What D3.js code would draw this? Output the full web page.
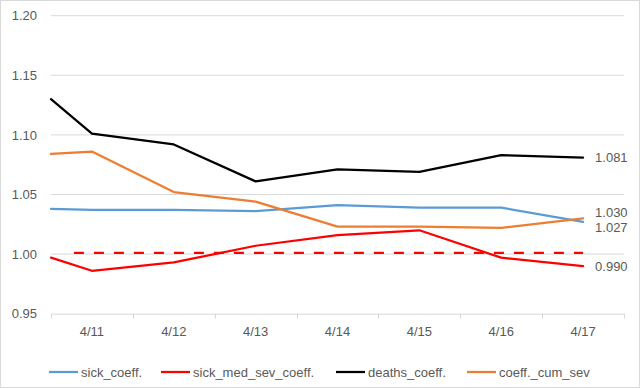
<!DOCTYPE html>
<html><head><meta charset="utf-8">
<script src="https://cdn.jsdelivr.net/npm/d3@7"></script>
<style>
html,body{margin:0;padding:0;background:#fff;}
svg{display:block;}
text{font-family:"Liberation Sans",Arial,sans-serif;fill:#595959;}
</style></head>
<body>
<svg id="chart" width="640" height="388"></svg>
<script>
// ---- data ----
const categories = ["4/11","4/12","4/13","4/14","4/15","4/16","4/17"];
const seriesNames = ["sick_coeff.","sick_med_sev_coeff.","deaths_coeff.","coeff._cum_sev"];
const seriesColors = ["#5B9BD5","#FF0000","#000000","#ED7D31"];
// value where each line enters at the left edge of the plot
const edgeValues = [1.038, 0.997, 1.130, 1.084];
const sickCoeff     = [1.037, 1.037, 1.036, 1.041, 1.039, 1.039, 1.027];
const sickMedSev    = [0.986, 0.993, 1.007, 1.016, 1.020, 0.997, 0.990];
const deathsCoeff   = [1.101, 1.092, 1.061, 1.071, 1.069, 1.083, 1.081];
const cumSevCoeff   = [1.086, 1.052, 1.044, 1.023, 1.023, 1.022, 1.030];
const seriesValues = [sickCoeff, sickMedSev, deathsCoeff, cumSevCoeff];
const refValue = 1.001;           // dashed reference level
const refFrom = -0.22, refTo = 6; // category index span of the dashed line
const yTicks = [0.95, 1.00, 1.05, 1.10, 1.15, 1.20];
const yDomain = [0.95, 1.20];

// ---- layout ----
const svg = d3.select("#chart");
const plot = {left: 51, right: 624, top: 15.7, bottom: 313.7};

svg.append("rect").attr("x",0.5).attr("y",0.5).attr("width",639).attr("height",387)
  .attr("fill","#fff").attr("stroke","#d9d9d9");

const x = d3.scaleBand().domain(categories).range([plot.left, plot.right]);
const xi = d3.scaleLinear().domain([-0.5, categories.length - 0.5]).range([plot.left, plot.right]);
const y = d3.scaleLinear().domain(yDomain).range([plot.bottom, plot.top]);

// gridlines
svg.append("g").selectAll("line").data(yTicks.slice(1)).join("line")
  .attr("x1", plot.left).attr("x2", plot.right)
  .attr("y1", d => y(d)).attr("y2", d => y(d))
  .attr("stroke", "#d9d9d9").attr("stroke-width", 1);

// y axis labels
const yAxis = d3.axisLeft(y).tickValues(yTicks).tickFormat(d3.format(".2f")).tickSize(0).tickPadding(14);
const gy = svg.append("g").attr("transform", `translate(${plot.left},0)`).call(yAxis);
gy.select(".domain").remove();
gy.selectAll("text").attr("font-size", 13).attr("fill", "#595959")
  .attr("font-family", "Liberation Sans, Arial, sans-serif");

// x axis
const xAxis = d3.axisBottom(x).tickSizeOuter(0).tickSize(0).tickPadding(13);
const gx = svg.append("g").attr("transform", `translate(0,${plot.bottom})`).call(xAxis);
gx.select(".domain").attr("stroke", "#d9d9d9").attr("d", `M${plot.left},0.5H${plot.right}`);
gx.selectAll("text").attr("font-size", 13).attr("fill", "#595959")
  .attr("font-family", "Liberation Sans, Arial, sans-serif");
// tick marks at category boundaries
const boundaries = d3.range(categories.length + 1);
gx.append("g").selectAll("line").data(boundaries).join("line")
  .attr("x1", d => Math.round(xi(d - 0.5)) + 0.5).attr("x2", d => Math.round(xi(d - 0.5)) + 0.5)
  .attr("y1", 0).attr("y2", 5).attr("stroke", "#d9d9d9");

// dashed reference line
svg.append("line")
  .attr("x1", xi(refFrom)).attr("x2", xi(refTo))
  .attr("y1", y(refValue)).attr("y2", y(refValue))
  .attr("stroke", "#FF0000").attr("stroke-width", 2.25).attr("stroke-dasharray", "10,10");

// series lines
const line = d3.line().x(d => d[0]).y(d => y(d[1]));
seriesValues.forEach((vals, s) => {
  const pts = [[plot.left, edgeValues[s]]].concat(vals.map((v, i) => [x(categories[i]) + x.bandwidth() / 2, v]));
  svg.append("path").attr("d", line(pts)).attr("fill", "none")
    .attr("stroke", seriesColors[s]).attr("stroke-width", 2.25)
    .attr("stroke-linejoin", "round").attr("stroke-linecap", "round");
});

// end labels with collision avoidance
const last = categories.length - 1;
let labels = seriesValues.map((vals, s) => ({v: vals[last], y: y(vals[last])}))
  .sort((a, b) => a.y - b.y);
const minGap = 15;
for (let iter = 0; iter < 20; iter++) {
  for (let i = 1; i < labels.length; i++) {
    const a = labels[i - 1], b = labels[i];
    if (b.y - a.y < minGap) {
      const mid = (a.y + b.y) / 2;
      a.y = mid - minGap / 2; b.y = mid + minGap / 2;
    }
  }
}
svg.append("g").selectAll("text").data(labels).join("text")
  .attr("x", x(categories[last]) + x.bandwidth() / 2 + 12)
  .attr("y", d => d.y).attr("dy", "0.35em")
  .attr("font-size", 13).text(d => d3.format(".3f")(d.v));

// legend
const legendX = [49, 161, 336, 467];
const lg = svg.append("g").attr("transform", "translate(0,372)");
seriesNames.forEach((n, s) => {
  lg.append("line").attr("x1", legendX[s]).attr("x2", legendX[s] + 29)
    .attr("y1", 0).attr("y2", 0).attr("stroke", seriesColors[s]).attr("stroke-width", 2.25);
  lg.append("text").attr("x", legendX[s] + 32).attr("y", 0).attr("dy", "0.35em")
    .attr("font-size", 13).text(n);
});
</script>
</body></html>
